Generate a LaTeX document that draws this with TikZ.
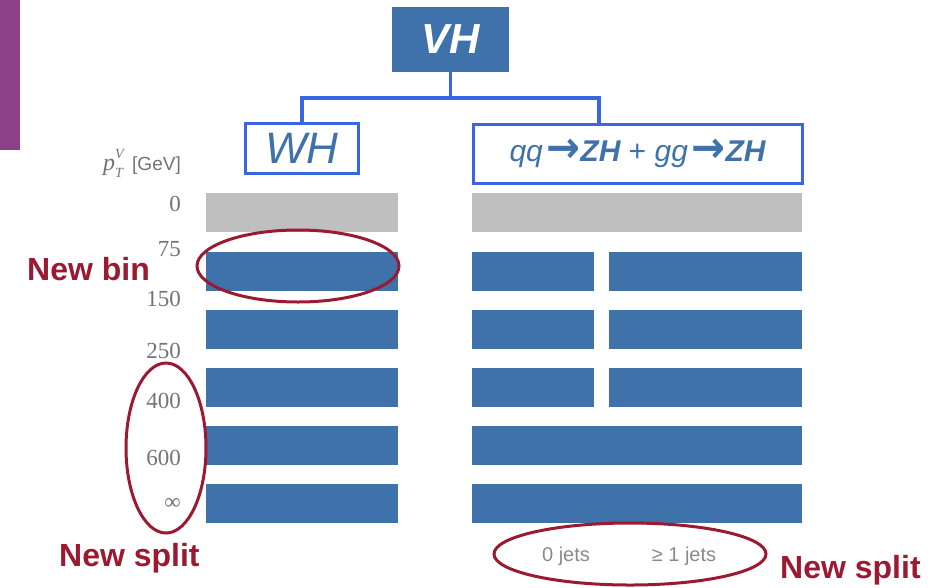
\documentclass[tikz,border=0pt]{standalone}
\usepackage{fontspec}
\usepackage{graphicx}
\setmainfont{Liberation Serif}
\setsansfont{Liberation Sans}
\newfontfamily\arialf{Liberation Sans}
\newfontfamily\dejavuf{DejaVu Sans}
\definecolor{barblue}{HTML}{3F72AA}
\definecolor{connblue}{HTML}{3B66E3}
\definecolor{newred}{HTML}{9C1A31}
\definecolor{bargray}{HTML}{BFBFBF}
\definecolor{purp}{HTML}{8B4088}
\definecolor{labgray}{HTML}{737373}
\definecolor{jetgray}{HTML}{8A8A8A}
\newcommand{\thickarr}{\hspace{0.12em}\raisebox{-0.04em}{\scalebox{1.35}[1.45]{\dejavuf\bfseries →}}}
\begin{document}
\begin{tikzpicture}[x=1pt,y=-1pt,
  vhbox/.style={fill=barblue, text=white, inner sep=0pt, font=\arialf\bfseries\itshape\fontsize{42}{48}\selectfont},
  catbox/.style={draw=connblue, line width=3pt, fill=white, inner sep=0pt, text=barblue},
  conn/.style={draw=connblue, line width=3.5pt},
  binlab/.style={anchor=base east, text=labgray, inner sep=0pt, font=\fontsize{23}{26}\selectfont},
  newlab/.style={anchor=base west, text=newred, inner sep=0pt, font=\arialf\bfseries\fontsize{32}{36}\selectfont},
  redell/.style={draw=newred, line width=3pt},
  jetlab/.style={anchor=base, text=jetgray, inner sep=0pt, font=\arialf\fontsize{20}{24}\selectfont},
  bar/.style={fill=barblue},
  gbar/.style={fill=bargray}]
\useasboundingbox (0,0) rectangle (933,587);

% side purple strip
\fill[purp] (0,0) rectangle (20,150);

% tree boxes
\node[vhbox, minimum width=117, minimum height=65] (vh) at (450.5,39.5) {VH};
\node[catbox, minimum width=113, minimum height=50, font=\arialf\itshape\fontsize{44}{50}\selectfont] (wh) at (302,148) {WH};
\node[catbox, minimum width=329, minimum height=59, font=\arialf\fontsize{30}{36}\selectfont] (zh) at (637.5,153.5)
  {\itshape qq\thickarr\bfseries ZH \mdseries\upshape+ \itshape gg\thickarr\bfseries ZH};
\coordinate (zc) at (599,124);
\draw[conn] (vh.south) -- ++(0,26) coordinate (mid) -| (wh.north);
\draw[conn] (mid) -| (zc);

% pT axis
\node[anchor=base west, text=labgray, inner sep=0pt, font=\fontsize{24}{26}\selectfont] (pt) at (103,170)
  {\textit{p}\rlap{\raisebox{0.5em}{\fontsize{14}{14}\selectfont\textit{V}}}\raisebox{-0.3em}{\fontsize{14}{14}\selectfont\textit{T}}\hspace{0.35em}{\arialf\fontsize{19}{22}\selectfont [GeV]}};
\node[binlab] (b0) at (181,211) {0};
\node[binlab] (b1) at (181,256) {75};
\node[binlab] (b2) at (181,306) {150};
\node[binlab] (b3) at (181,358) {250};
\node[binlab] (b4) at (181,408) {400};
\node[binlab] (b5) at (181,465) {600};
\node[binlab] (b6) at (181,509) {∞};

% bars
\fill[gbar] (206,193) rectangle (398,232);
\fill[gbar] (472,193) rectangle (802,232);
\foreach \t in {252,310,368,426,484}{
  \fill[bar] (206,\t) rectangle (398,\t+39);
}
\foreach \t in {252,310,368}{
  \fill[bar] (472,\t) rectangle (594,\t+39);
  \fill[bar] (609,\t) rectangle (802,\t+39);
}
\foreach \t in {426,484}{
  \fill[bar] (472,\t) rectangle (802,\t+39);
}

% jet labels
\node[jetlab] (j0) at (566,561) {0 jets};
\node[jetlab] (j1) at (684,561) {≥ 1 jets};

% annotations
\draw[redell] (298,266) ellipse [x radius=101, y radius=36];
\draw[redell] (166,448) ellipse [x radius=40, y radius=85];
\draw[redell] (630,554) ellipse [x radius=136, y radius=31];
\node[newlab] (nb) at (27,280) {New bin};
\node[newlab] (ns1) at (59,566) {New split};
\node[newlab] (ns2) at (780,578) {New split};
\end{tikzpicture}
\end{document}
